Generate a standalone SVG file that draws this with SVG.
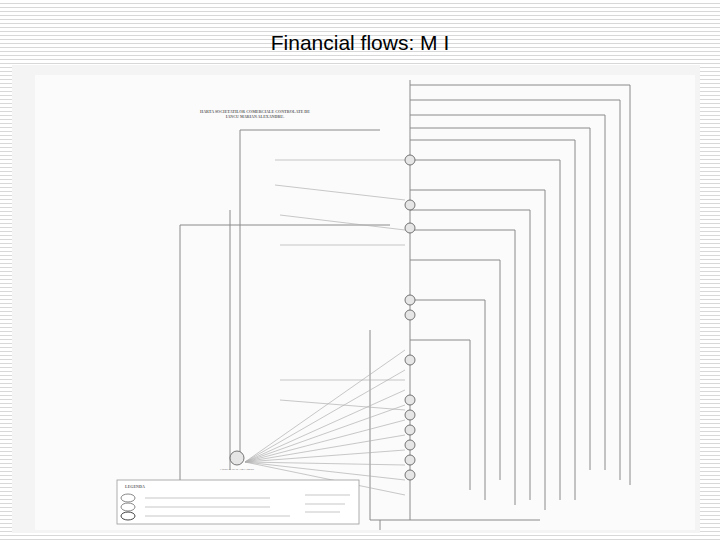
<svg xmlns="http://www.w3.org/2000/svg" width="720" height="540" viewBox="0 0 720 540">
<defs>
<pattern id="stripes" width="8" height="4" patternUnits="userSpaceOnUse">
<rect width="8" height="4" fill="#ffffff"/>
<rect y="3" width="8" height="1" fill="#d8d8d8"/>
</pattern>
<style>
.ln{fill:none;stroke:#8a8a8a;stroke-width:1}
.lt{fill:none;stroke:#b0b0b0;stroke-width:0.7}
.nd{fill:#e6e6e6;stroke:#555;stroke-width:0.8}
.lb{font-family:"Liberation Sans",sans-serif;font-size:2.5px;fill:#777}
.hd{font-family:"Liberation Serif",serif;font-size:4px;fill:#666;font-weight:bold}
</style>
</defs>
<rect width="720" height="540" fill="url(#stripes)"/>
<text x="360" y="50" text-anchor="middle" font-family="Liberation Sans,Arial,sans-serif" font-size="21" fill="#000">Financial flows: M I</text>
<rect x="12" y="65" width="688" height="468" fill="#f4f4f4"/>
<rect x="35" y="75" width="660" height="455" fill="#fbfbfb"/>
<text class="hd" x="255" y="113" text-anchor="middle">HARTA SOCIETATILOR COMERCIALE CONTROLATE DE</text>
<text class="hd" x="255" y="118" text-anchor="middle">IANCU MARIAN ALEXANDRU.</text>
<g id="connectors">
<path class="ln" d="M410 85 H630 V485"/>
<path class="ln" d="M410 100 H620 V480"/>
<path class="ln" d="M410 115 H605 V470"/>
<path class="ln" d="M410 128 H590 V470"/>
<path class="ln" d="M410 140 H575 V500"/>
<path class="ln" d="M410 160 H560 V500"/>
<path class="ln" d="M410 190 H545 V510"/>
<path class="ln" d="M410 210 H530 V500"/>
<path class="ln" d="M410 230 H515 V505"/>
<path class="ln" d="M410 260 H500 V480"/>
<path class="ln" d="M410 300 H485 V500"/>
<path class="ln" d="M410 340 H470 V490"/>
<path class="ln" d="M240 130 H380 M240 130 V460"/>
<path class="ln" d="M230 210 V470"/>
<path class="ln" d="M180 225 V500"/>
<path class="ln" d="M180 225 H390"/>
<path class="ln" d="M370 330 V520 H540"/>
<path class="ln" d="M380 520 V530"/>
<path class="ln" d="M410 80 V520"/>
<path class="lt" d="M245 462 L405 350 M245 462 L405 370 M245 462 L405 390 M245 462 L405 405 M245 462 L405 420 M245 462 L405 435 M245 462 L405 450 M245 462 L405 465 M245 462 L405 480 M245 462 L405 495"/>
<path class="lt" d="M275 160 L405 160 M275 185 L405 200 M280 215 L405 230 M280 245 L405 245 M280 380 L405 380 M280 400 L405 410"/>
</g>
<g id="nodes">
<circle class="nd" cx="410" cy="160" r="5"/>
<circle class="nd" cx="410" cy="205" r="5"/>
<circle class="nd" cx="410" cy="228" r="5"/>
<circle class="nd" cx="410" cy="300" r="5"/>
<circle class="nd" cx="410" cy="315" r="5"/>
<circle class="nd" cx="410" cy="360" r="5"/>
<circle class="nd" cx="410" cy="400" r="5"/>
<circle class="nd" cx="410" cy="415" r="5"/>
<circle class="nd" cx="410" cy="430" r="5"/>
<circle class="nd" cx="410" cy="445" r="5"/>
<circle class="nd" cx="410" cy="460" r="5"/>
<circle class="nd" cx="410" cy="475" r="5"/>
<circle class="nd" cx="237" cy="458" r="7"/>
<text class="lb" x="237" y="470" text-anchor="middle">IANCU MARIAN ALEXANDRU</text>
</g>
<g id="legend">
<rect x="117" y="480" width="242" height="44" fill="#fff" stroke="#999" stroke-width="0.8"/>
<text class="hd" x="125" y="488">LEGENDA</text>
<ellipse cx="128" cy="498" rx="7" ry="4" fill="none" stroke="#888"/>
<ellipse cx="128" cy="507" rx="7" ry="4" fill="none" stroke="#888"/>
<ellipse cx="128" cy="516" rx="7" ry="4" fill="none" stroke="#444"/>
<path class="lt" d="M145 498 H270 M145 507 H270 M145 516 H290 M305 495 H350 M305 504 H345 M305 512 H340"/>
</g>
</svg>
